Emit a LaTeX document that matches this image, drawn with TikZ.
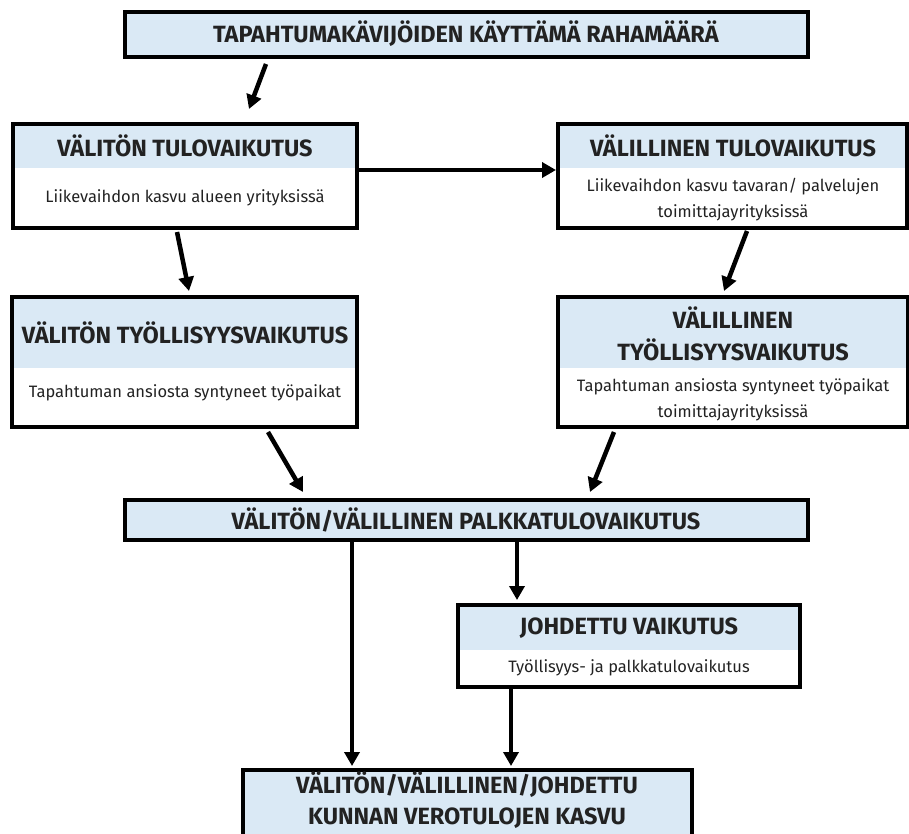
\documentclass[tikz,border=0pt]{standalone}
\usepackage{fontspec}
\setmainfont{Fira Sans}
\usetikzlibrary{arrows.meta,calc}
\definecolor{hdrfill}{RGB}{218,233,245}
\definecolor{txt}{RGB}{34,34,34}
\tikzset{
  box/.style={draw=black, line width=4pt, anchor=north west, inner sep=0pt, outer sep=0pt},
  hdr/.style={font=\bfseries\fontsize{23.5}{31.5}\selectfont, text=txt, align=center, inner sep=0pt},
  body/.style={font=\fontsize{16.5}{26.5}\selectfont, text=txt, align=center, inner sep=0pt},
  arr/.style={line width=4.5pt, -{Triangle[length=14pt,width=15pt]}}
}
\begin{document}
\begin{tikzpicture}[x=1pt,y=-1pt]
\useasboundingbox (0,0) rectangle (909,833);
\clip (0,0) rectangle (909,833);
% top box
\fill[hdrfill] (125,12) rectangle (808,57);
\node[box, minimum width=683pt, minimum height=45pt] (top) at (125,12) {};
\node[hdr] (toptxt) at (466,34) {TAPAHTUMAKÄVIJÖIDEN KÄYTTÄMÄ RAHAMÄÄRÄ};
% valiton tulovaikutus
\fill[hdrfill] (13,124) rectangle (357,168);
\node[box, minimum width=344pt, minimum height=104pt] (vt) at (13,124) {};
\node[hdr] (vth) at (185,146) {VÄLITÖN TULOVAIKUTUS};
\node[body] (vtb) at (185,198) {Liikevaihdon kasvu alueen yrityksissä};
% valillinen tulovaikutus
\fill[hdrfill] (558,124) rectangle (907,168);
\node[box, minimum width=349pt, minimum height=104pt] (vlt) at (558,124) {};
\node[hdr] (vlth) at (733,146) {VÄLILLINEN TULOVAIKUTUS};
\node[body] (vltb) at (733,199.5) {Liikevaihdon kasvu tavaran/ palvelujen\\toimittajayrityksissä};
% valiton tyollisyysvaikutus
\fill[hdrfill] (12,297) rectangle (357,368);
\node[box, minimum width=345pt, minimum height=130pt] (vty) at (12,297) {};
\node[hdr] (vtyh) at (185,333) {VÄLITÖN TYÖLLISYYSVAIKUTUS};
\node[body] (vtyb) at (185,393) {Tapahtuman ansiosta syntyneet työpaikat};
% valillinen tyollisyysvaikutus
\fill[hdrfill] (558,297) rectangle (908,368);
\node[box, minimum width=350pt, minimum height=130pt] (vlty) at (558,297) {};
\node[hdr] (vltyh) at (733,334) {VÄLILLINEN\\TYÖLLISYYSVAIKUTUS};
\node[body] (vltyb) at (733,400) {Tapahtuman ansiosta syntyneet työpaikat\\toimittajayrityksissä};
% palkkatulovaikutus
\fill[hdrfill] (125,500) rectangle (808,540);
\node[box, minimum width=683pt, minimum height=40pt] (palk) at (125,500) {};
\node[hdr] (palktxt) at (466,520) {VÄLITÖN/VÄLILLINEN PALKKATULOVAIKUTUS};
% johdettu
\fill[hdrfill] (458,605) rectangle (800,650);
\node[box, minimum width=342pt, minimum height=82pt] (joh) at (458,605) {};
\node[hdr] (johh) at (629,628) {JOHDETTU VAIKUTUS};
\node[body] (johb) at (629,668) {Työllisyys- ja palkkatulovaikutus};
% bottom
\fill[hdrfill] (243,770) rectangle (692,850);
\node[box, minimum width=449pt, minimum height=80pt] (bot) at (243,770) {};
\node[hdr] (bottxt) at (467,800) {VÄLITÖN/VÄLILLINEN/JOHDETTU\\KUNNAN VEROTULOJEN KASVU};
% arrows
\draw[arr] ($(top.south west)+(141,7)$) -- ($(vt.north west)+(236,-15)$);
\draw[arr] ($(vt.north east)+(0,46)$) -- ($(vlt.north west)+(-2,46)$);
\draw[arr] ($(vt.south west)+(164,4)$) -- ($(vt.south west)+(176,63)$);
\draw[arr] ($(vlt.south west)+(189,3)$) -- ($(vlty.north west)+(166,-6)$);
\draw[arr] ($(vty.south west)+(256,5)$) -- ($(palk.north west)+(178,-8)$);
\draw[arr] ($(vlty.south west)+(56,5)$) -- ($(palk.north west)+(465,-8)$);
\draw[arr] ($(palk.south west)+(227,1)$) -- ($(bot.north west)+(109,-4)$);
\draw[arr] ($(palk.south west)+(392,1)$) -- ($(joh.north west)+(59,-5)$);
\draw[arr] ($(joh.south west)+(53,1)$) -- ($(bot.north west)+(268,-4)$);
\end{tikzpicture}
\end{document}
